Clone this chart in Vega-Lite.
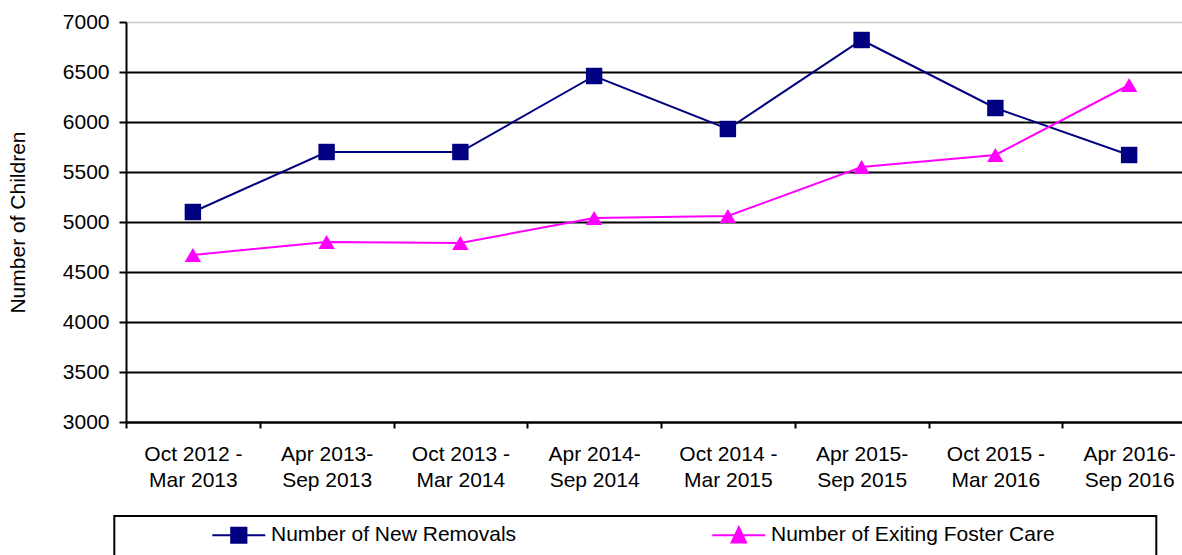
{
  "$schema": "https://vega.github.io/schema/vega-lite/v6.json",
  "width": 1056,
  "height": 400,
  "autosize": {"type": "none"},
  "padding": {"left": 126, "top": 22, "right": 0, "bottom": 133},
  "background": "white",
  "config": {
    "view": {"stroke": null},
    "font": "Liberation Sans",
    "axis": {
      "labelFont": "Liberation Sans",
      "titleFont": "Liberation Sans",
      "labelColor": "black",
      "titleColor": "black",
      "labelFontSize": 21,
      "titleFontSize": 21,
      "titleFontWeight": "normal",
      "domainColor": "black",
      "domainWidth": 2,
      "tickColor": "black",
      "tickWidth": 2
    },
    "legend": {
      "orient": "none",
      "legendX": -11.7,
      "legendY": 494,
      "direction": "horizontal",
      "columns": 2,
      "columnPadding": 106,
      "padding": 8.5,
      "strokeColor": "black",
      "strokeWidth": 2,
      "symbolSize": 256,
      "symbolStrokeWidth": 2,
      "symbolOpacity": 1,
      "symbolOffset": 105.5,
      "labelOffset": 21.7,
      "labelFont": "Liberation Sans",
      "labelFontSize": 21,
      "labelColor": "black",
      "labelLimit": 0
    }
  },
  "data": {
    "values": [
      {"period": "Oct 2012 - Mar 2013", "series": "Number of New Removals", "value": 5100},
      {"period": "Apr 2013-Sep 2013", "series": "Number of New Removals", "value": 5700},
      {"period": "Oct 2013 - Mar 2014", "series": "Number of New Removals", "value": 5700},
      {"period": "Apr 2014-Sep 2014", "series": "Number of New Removals", "value": 6460},
      {"period": "Oct 2014 - Mar 2015", "series": "Number of New Removals", "value": 5930},
      {"period": "Apr 2015-Sep 2015", "series": "Number of New Removals", "value": 6820},
      {"period": "Oct 2015 - Mar 2016", "series": "Number of New Removals", "value": 6140},
      {"period": "Apr 2016-Sep 2016", "series": "Number of New Removals", "value": 5670},
      {"period": "Oct 2012 - Mar 2013", "series": "Number of Exiting Foster Care", "value": 4670},
      {"period": "Apr 2013-Sep 2013", "series": "Number of Exiting Foster Care", "value": 4800},
      {"period": "Oct 2013 - Mar 2014", "series": "Number of Exiting Foster Care", "value": 4790},
      {"period": "Apr 2014-Sep 2014", "series": "Number of Exiting Foster Care", "value": 5040},
      {"period": "Oct 2014 - Mar 2015", "series": "Number of Exiting Foster Care", "value": 5060},
      {"period": "Apr 2015-Sep 2015", "series": "Number of Exiting Foster Care", "value": 5550},
      {"period": "Oct 2015 - Mar 2016", "series": "Number of Exiting Foster Care", "value": 5670},
      {"period": "Apr 2016-Sep 2016", "series": "Number of Exiting Foster Care", "value": 6370}
    ]
  },
  "encoding": {
    "x": {
      "field": "period",
      "type": "nominal",
      "sort": null,
      "scale": {"type": "band", "range": [0, 1070], "paddingInner": 0, "paddingOuter": 0},
      "axis": {
        "title": null,
        "labelAngle": 0,
        "labelExpr": "[trim(slice(datum.label, 0, -8)), slice(datum.label, -8)]",
        "labelLineHeight": 26.5,
        "labelPadding": 15,
        "labelLimit": 0,
        "tickSize": 6,
        "tickBand": "extent",
        "grid": false
      }
    },
    "y": {
      "field": "value",
      "type": "quantitative",
      "scale": {"domain": [3000, 7000], "nice": false, "zero": false},
      "axis": {
        "title": "Number of Children",
        "values": [3000, 3500, 4000, 4500, 5000, 5500, 6000, 6500, 7000],
        "format": "d",
        "grid": true,
        "gridColor": {"condition": {"test": "datum.value === 7000", "value": "#c8c8c8"}, "value": "black"},
        "gridWidth": {"condition": {"test": "datum.value === 7000", "value": 1.5}, "value": 2},
        "tickSize": 7,
        "labelPadding": 10,
        "titleX": -108,
        "titleY": 200,
        "titleAngle": 270,
        "titleAlign": "center",
        "titleBaseline": "middle"
      }
    }
  },
  "layer": [
    {
      "transform": [{"filter": "datum.series === 'Number of New Removals'"}],
      "mark": {"type": "line", "strokeWidth": 2, "color": "#000080"}
    },
    {
      "transform": [{"filter": "datum.series === 'Number of Exiting Foster Care'"}],
      "mark": {"type": "line", "strokeWidth": 2, "color": "#FF00FF"}
    },
    {
      "transform": [{"filter": "datum.series === 'Number of New Removals'"}],
      "mark": {"type": "point", "shape": "square", "filled": true, "size": 270, "opacity": 1, "color": "#000080"}
    },
    {
      "transform": [{"filter": "datum.series === 'Number of Exiting Foster Care'"}],
      "mark": {"type": "point", "shape": "triangle-up", "filled": true, "size": 270, "opacity": 1, "color": "#FF00FF"}
    },
    {
      "mark": {"type": "point", "opacity": 0, "size": 256, "strokeWidth": 2},
      "encoding": {
        "fill": {
          "field": "series",
          "type": "nominal",
          "scale": {
            "domain": ["Number of New Removals", "Number of Exiting Foster Care"],
            "range": ["#000080", "#FF00FF"]
          },
          "legend": {"title": null}
        },
        "stroke": {
          "field": "series",
          "type": "nominal",
          "scale": {
            "domain": ["Number of New Removals", "Number of Exiting Foster Care"],
            "range": ["#000080", "#FF00FF"]
          },
          "legend": {"title": null}
        },
        "shape": {
          "field": "series",
          "type": "nominal",
          "scale": {
            "domain": ["Number of New Removals", "Number of Exiting Foster Care"],
            "range": [
              "M-3.31,0H3.31M-0.95,-0.95H0.95V0.95H-0.95ZM0,5",
              "M-3.31,0H3.31M0,-1L0.9,0.9H-0.9ZM50.6,0M0,5"
            ]
          },
          "legend": {"title": null}
        }
      }
    }
  ]
}
